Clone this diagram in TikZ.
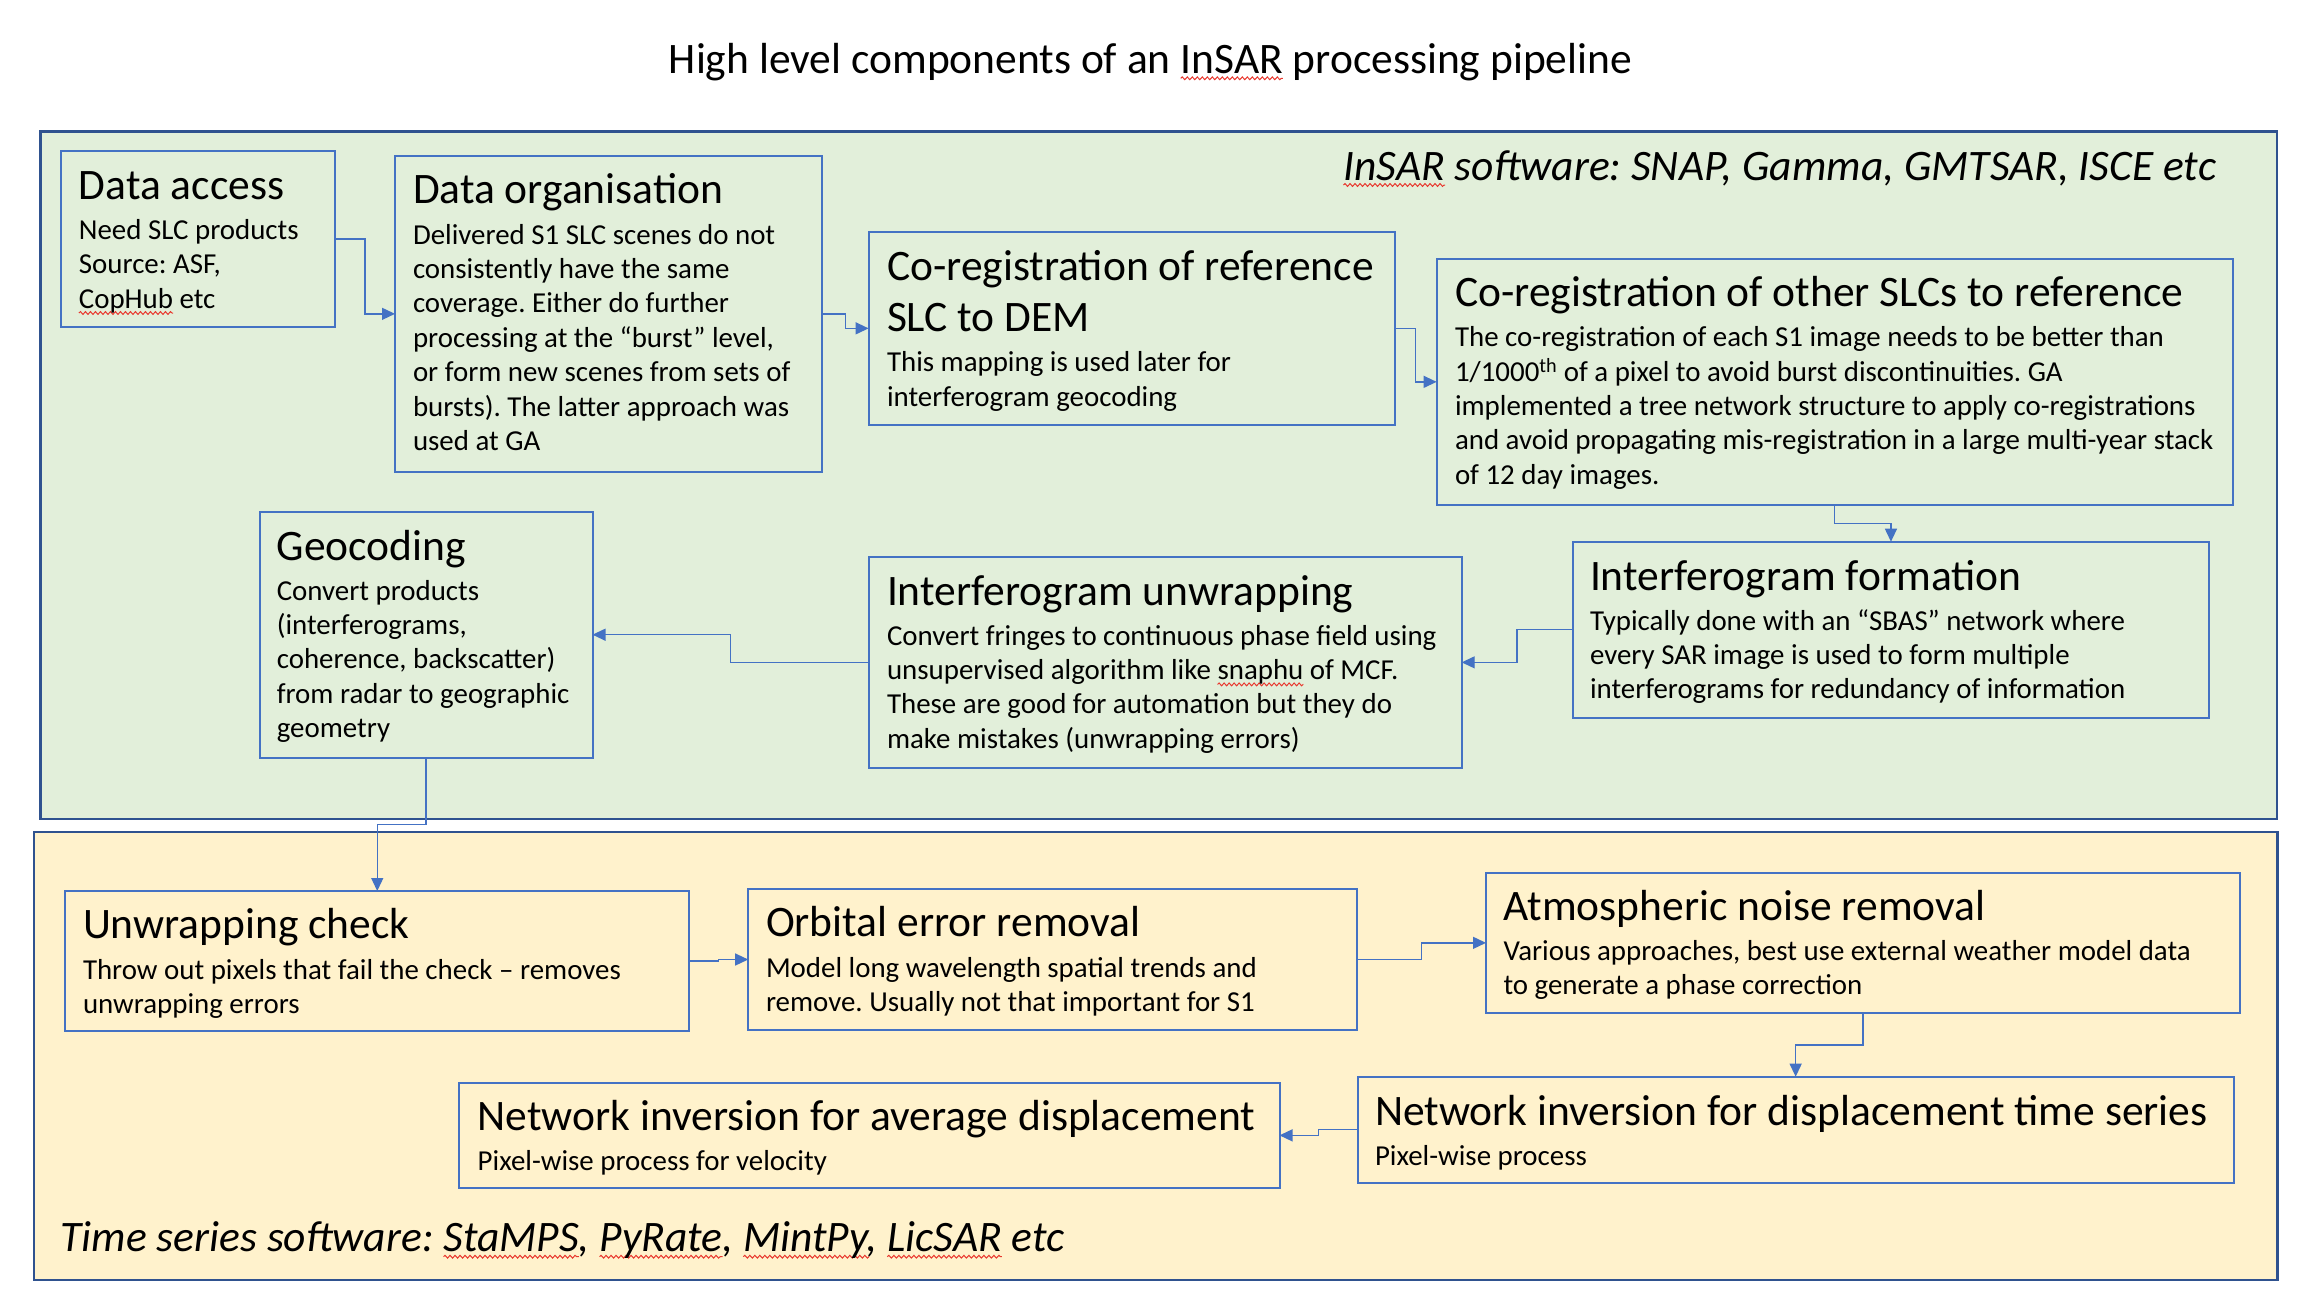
\documentclass[tikz,border=0pt]{standalone}
\usepackage{fontspec}
\setmainfont{Carlito}
\usetikzlibrary{arrows.meta,calc,decorations.pathmorphing}
\definecolor{boxblue}{HTML}{4472C4}
\definecolor{panelblue}{HTML}{2F528F}
\definecolor{pgreen}{HTML}{E2EFDA}
\definecolor{pyellow}{HTML}{FFF2CC}
\definecolor{squig}{HTML}{E8382E}
\frenchspacing
\newlength\sqlen
\newcommand\sq[1]{\settowidth{\sqlen}{#1}\tikz[overlay,baseline=0pt]\draw[squig,line width=1pt,decorate,decoration={snake,amplitude=1.4pt,segment length=5pt}] (0pt,-5pt) -- (\sqlen,-5pt);#1}
\tikzset{
  panel/.style={draw=panelblue,line width=2.5pt},
  stepbox/.style={draw=boxblue,line width=2pt,inner sep=0pt,outer sep=0pt,anchor=north west},
  ttl/.style={inner sep=0pt,outer sep=0pt,anchor=base west,font=\fontsize{43.5}{51.7}\selectfont\frenchspacing},
  bod/.style={inner sep=0pt,outer sep=0pt,anchor=base west,font=\fontsize{28.9}{34.4}\selectfont\frenchspacing},
  lbl/.style={inner sep=0pt,outer sep=0pt,font=\fontsize{43.5}{51.7}\selectfont\itshape\frenchspacing},
  conn/.style={draw=boxblue,line width=1.3pt,-{Triangle[length=13pt,width=12pt]}}
}
\newcommand\lines[1]{\parbox[t]{1400pt}{\raggedright\frenchspacing #1}}
\begin{document}
\begin{tikzpicture}[x=1pt,y=-1pt]
\useasboundingbox[fill=white] (0,0) rectangle (2310,1304);
% panels
\path[panel,fill=pgreen] (40.5,131.7) rectangle (2277,819);
\path[panel,fill=pyellow] (34,832) rectangle (2277.5,1280);
% title
\node[lbl,font=\fontsize{43.5}{51.7}\selectfont\frenchspacing,anchor=base] (title) at (1150.5,73.3) {High level components of an \sq{InSAR} processing pipeline};
\node[lbl,anchor=base east] (insarlbl) at (2216,180) {\sq{InSAR} software: SNAP, Gamma, GMTSAR, ISCE etc};
\node[lbl,anchor=base west] (tslbl) at (60.7,1251.7) {Time series software: \sq{StaMPS}, \sq{PyRate}, \sq{MintPy}, \sq{LicSAR} etc};
% boxes
\node[stepbox,minimum width=273.3pt,minimum height=176.3pt] (da) at (61.4,150.7) {};
\node[stepbox,minimum width=427pt,minimum height=315.7pt] (do) at (395,156) {};
\node[stepbox,minimum width=526.1pt,minimum height=193.3pt] (cr) at (868.6,231.7) {};
\node[stepbox,minimum width=796.1pt,minimum height=245.7pt] (co) at (1436.6,259) {};
\node[stepbox,minimum width=636.9pt,minimum height=176pt] (fo) at (1572.5,541.7) {};
\node[stepbox,minimum width=593.1pt,minimum height=210.7pt] (uw) at (868.6,557) {};
\node[stepbox,minimum width=332.9pt,minimum height=246pt] (ge) at (259.6,511.7) {};
\node[stepbox,minimum width=624.1pt,minimum height=140pt] (uc) at (65.2,891) {};
\node[stepbox,minimum width=608.8pt,minimum height=141pt] (or) at (748.2,889) {};
\node[stepbox,minimum width=753.9pt,minimum height=140.3pt] (at) at (1486,872.7) {};
\node[stepbox,minimum width=876.3pt,minimum height=106pt] (nt) at (1357.5,1076.7) {};
\node[stepbox,minimum width=820.5pt,minimum height=104.7pt] (na) at (459,1083) {};
% texts
\node[ttl] (da-t) at ($(da.north west)+(17.5,48.3)$) {Data access};
\node[bod] (da-b) at ($(da.north west)+(17.5,88.5)$) {\lines{Need SLC products\\Source: ASF,\\\sq{CopHub} etc}};
\node[ttl] (do-t) at ($(do.north west)+(18,47.5)$) {Data organisation};
\node[bod] (do-b) at ($(do.north west)+(18,88)$) {\lines{Delivered S1 SLC scenes do not\\consistently have the same\\coverage. Either do further\\processing at the “burst” level,\\or form new scenes from sets of\\bursts). The latter approach was\\used at GA}};
\node[ttl] (cr-t) at ($(cr.north west)+(18.4,48.3)$) {\lines{Co-registration of reference\\SLC to DEM}};
\node[bod] (cr-b) at ($(cr.north west)+(18.4,140)$) {\lines{This mapping is used later for\\interferogram geocoding}};
\node[ttl] (co-t) at ($(co.north west)+(18.4,47.7)$) {Co-registration of other SLCs to reference};
\node[bod] (co-b) at ($(co.north west)+(18.4,87.7)$) {\lines{The co-registration of each S1 image needs to be better than\\1/1000\textsuperscript{th} of a pixel to avoid burst discontinuities. GA\\implemented a tree network structure to apply co-registrations\\and avoid propagating mis-registration in a large multi-year stack\\of 12 day images.}};
\node[ttl] (fo-t) at ($(fo.north west)+(17.5,48.3)$) {Interferogram formation};
\node[bod] (fo-b) at ($(fo.north west)+(17.5,88.3)$) {\lines{Typically done with an “SBAS” network where\\every SAR image is used to form multiple\\interferograms for redundancy of information}};
\node[ttl] (uw-t) at ($(uw.north west)+(18.4,48)$) {Interferogram unwrapping};
\node[bod] (uw-b) at ($(uw.north west)+(18.4,88)$) {\lines{Convert fringes to continuous phase field using\\unsupervised algorithm like \sq{snaphu} of MCF.\\These are good for automation but they do\\make mistakes (unwrapping errors)}};
\node[ttl] (ge-t) at ($(ge.north west)+(17.2,48.3)$) {Geocoding};
\node[bod] (ge-b) at ($(ge.north west)+(17.2,88.3)$) {\lines{Convert products\\(interferograms,\\coherence, backscatter)\\from radar to geographic\\geometry}};
\node[ttl] (uc-t) at ($(uc.north west)+(17.8,47.3)$) {Unwrapping check};
\node[bod] (uc-b) at ($(uc.north west)+(17.8,88.3)$) {\lines{Throw out pixels that fail the check – removes\\unwrapping errors}};
\node[ttl] (or-t) at ($(or.north west)+(17.8,47.7)$) {Orbital error removal};
\node[bod] (or-b) at ($(or.north west)+(17.8,88.3)$) {\lines{Model long wavelength spatial trends and\\remove. Usually not that important for S1}};
\node[ttl] (at-t) at ($(at.north west)+(17.5,47.3)$) {Atmospheric noise removal};
\node[bod] (at-b) at ($(at.north west)+(17.5,87.3)$) {\lines{Various approaches, best use external weather model data\\to generate a phase correction}};
\node[ttl] (nt-t) at ($(nt.north west)+(17.5,48.3)$) {Network inversion for displacement time series};
\node[bod] (nt-b) at ($(nt.north west)+(17.5,88.3)$) {Pixel-wise process};
\node[ttl] (na-t) at ($(na.north west)+(18.7,47)$) {Network inversion for average displacement};
\node[bod] (na-b) at ($(na.north west)+(18.7,87)$) {Pixel-wise process for velocity};
% connectors
\draw[conn] (da.east) -| ($(da.east)!0.5!(do.west)$) |- (do.west);
\draw[conn] (do.east) -| ($(do.east)!0.5!(cr.west)$) |- (cr.west);
\draw[conn] (cr.east) -| ($(cr.east)!0.5!(co.west)$) |- (co.west);
\draw[conn] (co.south) |- ($(co.south)!0.5!(fo.north)$) -| (fo.north);
\draw[conn] (fo.west) -| ($(fo.west)!0.5!(uw.east)$) |- (uw.east);
\draw[conn] (uw.west) -| ($(uw.west)!0.5!(ge.east)$) |- (ge.east);
\draw[conn] (ge.south) |- ($(ge.south)!0.5!(uc.north)$) -| (uc.north);
\draw[conn] (uc.east) -| ($(uc.east)!0.5!(or.west)$) |- (or.west);
\draw[conn] (or.east) -| ($(or.east)!0.5!(at.west)$) |- (at.west);
\draw[conn] (at.south) |- ($(at.south)!0.5!(nt.north)$) -| (nt.north);
\draw[conn] (nt.west) -| ($(nt.west)!0.5!(na.east)$) |- (na.east);
\end{tikzpicture}
\end{document}
